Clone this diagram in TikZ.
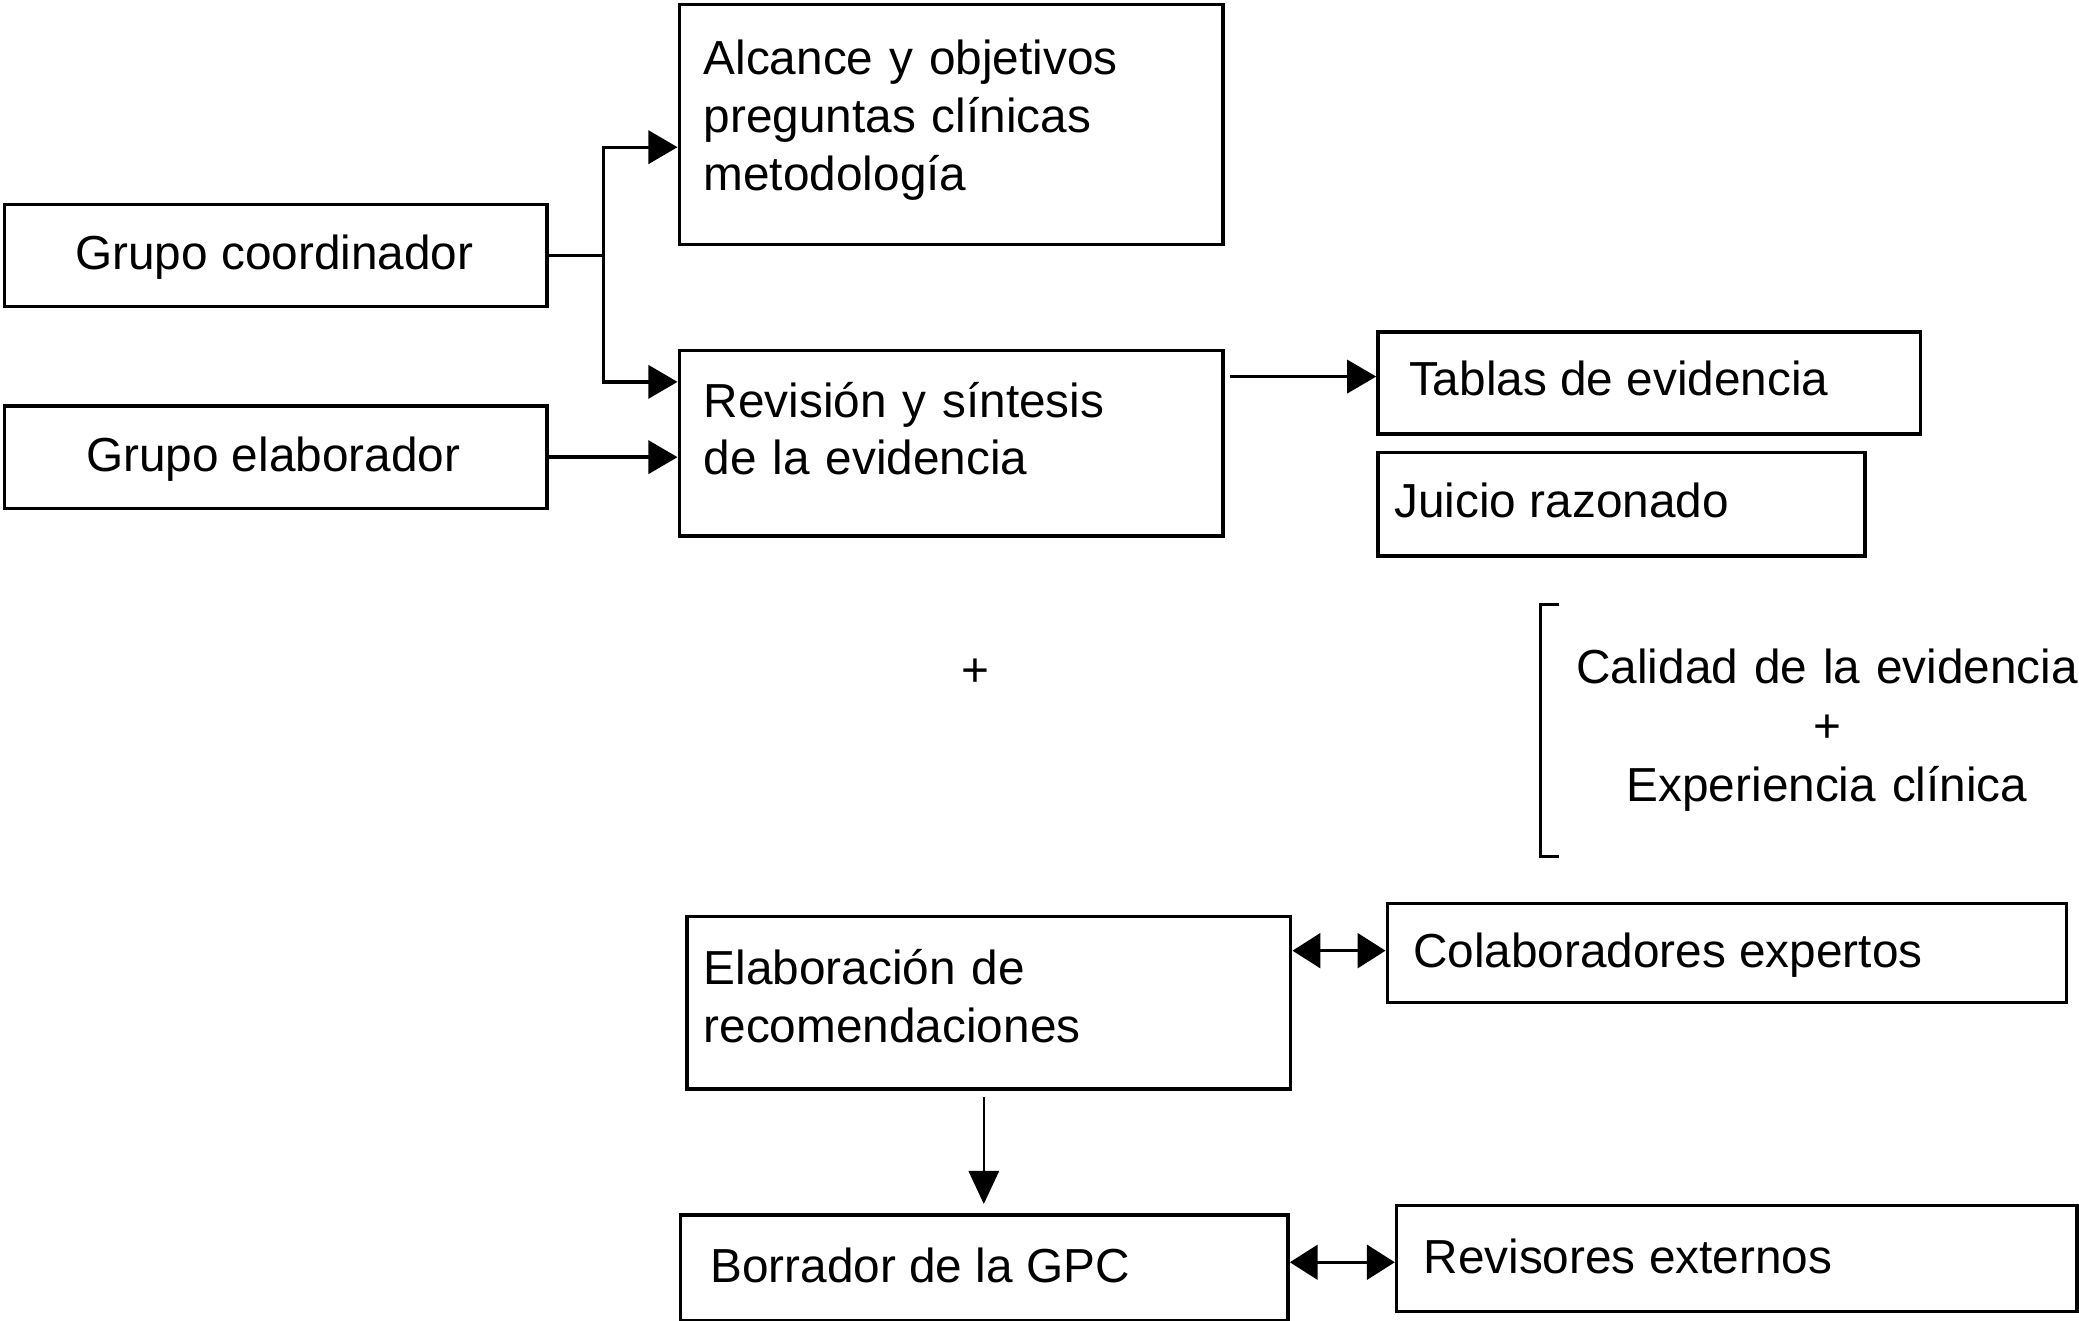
\documentclass[tikz,border=0pt]{standalone}
\usepackage{fontspec}
\setmainfont{Liberation Sans}
\usetikzlibrary{arrows.meta,calc}
\newcommand\figfont{\fontsize{10.24pt}{12.4pt}\selectfont}
\begin{document}
\begin{tikzpicture}[x=0.01cm,y=-0.01cm,
  box/.style={draw, line width=0.72pt, inner sep=0pt, anchor=north west},
  txt/.style={inner sep=0pt, anchor=base west, font=\figfont},
  mtxt/.style={txt, text width=4.3cm, align=left},
  arr/.style={line width=0.72pt, -{Triangle[length=0.22cm,width=0.25cm]}},
  darr/.style={line width=0.72pt, {Triangle[length=0.21cm,width=0.26cm]}-{Triangle[length=0.21cm,width=0.26cm]}},
  thinarr/.style={line width=0.45pt, -{Triangle[length=0.25cm,width=0.23cm]}},
  brk/.style={line width=0.65pt}]
\useasboundingbox (0,0) rectangle (1568,996);
% boxes
\node[box, minimum width=4.09cm, minimum height=0.77cm] (gc) at (2,153) {};
\node[box, minimum width=4.09cm, minimum height=0.77cm] (ge) at (2,305) {};
\node[box, minimum width=4.10cm, minimum height=1.81cm] (alc) at (511,2) {};
\node[box, minimum width=4.10cm, minimum height=1.40cm] (rev) at (511,263) {};
\node[box, minimum width=4.09cm, minimum height=0.77cm] (tab) at (1038,249) {};
\node[box, minimum width=3.67cm, minimum height=0.78cm] (jui) at (1038,340) {};
\node[box, minimum width=4.55cm, minimum height=1.30cm] (ela) at (517,690) {};
\node[box, minimum width=5.12cm, minimum height=0.75cm] (col) at (1045,680) {};
\node[box, minimum width=4.58cm, minimum height=0.80cm] (bor) at (512,915) {};
\node[box, minimum width=5.13cm, minimum height=0.80cm] (rvs) at (1052,908) {};
% texts
\node[txt, anchor=base] (tgc) at (207,203.5) {Grupo coordinador};
\node[txt, anchor=base] (tge) at (206,355.5) {Grupo elaborador};
\node[mtxt] (talc) at (530,56.5) {Alcance y objetivos\\preguntas clínicas\\metodología};
\node[mtxt] (trev) at (530,314.5) {Revisión y síntesis\\de la evidencia};
\node[txt] (ttab) at (1062,298.5) {Tablas de evidencia};
\node[txt] (tjui) at (1051,390.5) {Juicio razonado};
\node[txt, anchor=base, text width=4.2cm, align=center, font=\fontsize{10.24pt}{12.66pt}\selectfont] (tcal) at (1378,515.5) {Calidad de la evidencia\\+\\Experiencia clínica};
\node[txt, anchor=base] (tplus) at (736,517.5) {+};
\node[mtxt] (tela) at (530,742.5) {Elaboración de\\recomendaciones};
\node[txt] (tcol) at (1065,729.5) {Colaboradores expertos};
\node[txt] (tbor) at (535,967.5) {Borrador de la GPC};
\node[txt] (trvs) at (1073,960.5) {Revisores externos};
% connectors
\coordinate (jn) at (gc.east -| 455,0);
\draw[line width=0.72pt] (gc.east) -- (jn);
\draw[arr] (jn) |- (alc.west |- 0,111);
\draw[arr] (jn) |- (rev.west |- 0,288);
\draw[arr] (ge.east) -- (ge.east -| rev.west);
\draw[arr] ($(rev.east |- 0,284)+(4,0)$) -- (tab.west |- 0,284);
\draw[darr] (ela.east |- 0,717) -- (col.west |- 0,717);
\draw[thinarr] ($(ela.south -| 742,0)+(0,5)$) -- ($(bor.north -| 742,0)+(0,-7)$);
\draw[darr] (bor.east |- 0,952) -- (rvs.west |- 0,952);
% bracket
\coordinate (bt) at (1176,456);
\coordinate (bb) at (1176,646);
\draw[brk] (bt) -- (1162,456) -- (1162,646) -- (bb);
\end{tikzpicture}
\end{document}
